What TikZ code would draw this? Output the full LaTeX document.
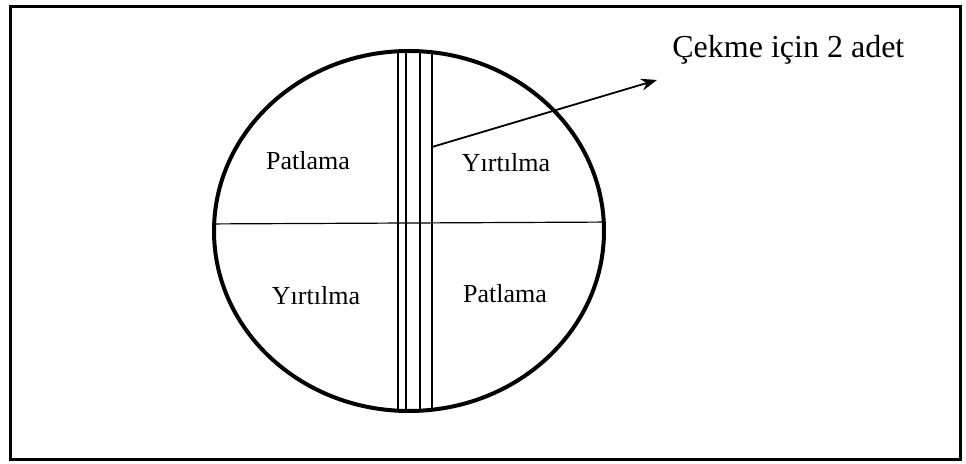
\documentclass[tikz,border=0pt]{standalone}
\usepackage{fontspec}
\setmainfont{Liberation Serif}
\usetikzlibrary{arrows.meta}

\tikzset{
  etiket/.style={font=\fontsize{13}{15}\selectfont, inner sep=0pt},
  baslik/.style={font=\fontsize{16}{19}\selectfont, inner sep=0pt, anchor=west},
  serit/.style={line width=0.8pt},
}

\begin{document}
\begin{tikzpicture}[x=0.5pt, y=-0.5pt, >={Stealth[length=8pt, width=6pt]}]
  \useasboundingbox (0,0) rectangle (966,464);

  % dış çerçeve
  \draw[line width=1.5pt] (10,7) rectangle (960,460);

  % numune
  \coordinate (O) at (409,231);
  \begin{scope}
    \clip (O) ellipse [x radius=195, y radius=180];
    % ortadaki şerit
    \foreach \x in {398,406,420,432}
      \draw[serit] (\x,0) -- (\x,464);
    % yatay çizgi
    \draw[line width=0.6pt] (200,224) -- (620,222);
  \end{scope}
  \draw[line width=2pt] (O) ellipse [x radius=195, y radius=180];

  % bölgeler
  \node[etiket] (p1) at (308,161) {Patlama};
  \node[etiket] (y1) at (506,163) {Yırtılma};
  \node[etiket] (y2) at (316,296) {Yırtılma};
  \node[etiket] (p2) at (505,294) {Patlama};

  % çekme oku
  \node[baslik] (cekme) at (672,50) {Çekme için 2 adet};
  \coordinate (ok) at (432,147);
  \coordinate (uc) at (657,80);
  \draw[->, line width=0.9pt] (ok) -- (uc);
\end{tikzpicture}
\end{document}
